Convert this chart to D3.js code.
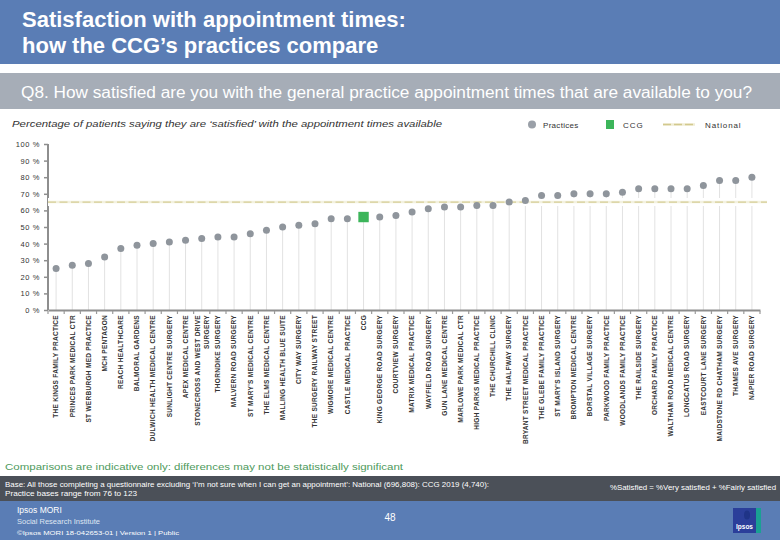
<!DOCTYPE html>
<html>
<head>
<meta charset="utf-8">
<script src="https://cdn.jsdelivr.net/npm/d3@7"></script>
<style>
  html, body { margin: 0; padding: 0; background: #ffffff; }
  svg { display: block; font-family: "Liberation Sans", Arial, sans-serif; }
</style>
</head>
<body>
<svg id="chart" width="780" height="540"></svg>
<script>
// ---- data ----
const practices = [
  "THE KINGS FAMILY PRACTICE", "PRINCES PARK MEDICAL CTR", "ST WERBURGH MED PRACTICE",
  "MCH PENTAGON", "REACH HEALTHCARE", "BALMORAL GARDENS", "DULWICH HEALTH MEDICAL CENTRE",
  "SUNLIGHT CENTRE SURGERY", "APEX MEDICAL CENTRE", "STONECROSS AND WEST DRIVE\nSURGERY",
  "THORNDIKE SURGERY", "MALVERN ROAD SURGERY", "ST MARY'S MEDICAL CENTRE",
  "THE ELMS MEDICAL CENTRE", "MALLING HEALTH BLUE SUITE", "CITY WAY SURGERY",
  "THE SURGERY RAILWAY STREET", "WIGMORE MEDICAL CENTRE", "CASTLE MEDICAL PRACTICE",
  "CCG", "KING GEORGE ROAD SURGERY", "COURTVIEW SURGERY", "MATRIX MEDICAL PRACTICE",
  "WAYFIELD ROAD SURGERY", "GUN LANE MEDICAL CENTRE", "MARLOWE PARK MEDICAL CTR",
  "HIGH PARKS MEDICAL PRACTICE", "THE CHURCHILL CLINIC", "THE HALFWAY SURGERY",
  "BRYANT STREET MEDICAL PRACTICE", "THE GLEBE FAMILY PRACTICE", "ST MARY'S ISLAND SURGERY",
  "BROMPTON MEDICAL CENTRE", "BORSTAL VILLAGE SURGERY", "PARKWOOD FAMILY PRACTICE",
  "WOODLANDS FAMILY PRACTICE", "THE RAILSIDE SURGERY", "ORCHARD FAMILY PRACTICE",
  "WALTHAM ROAD MEDICAL CENTRE", "LONGCATUS ROAD SURGERY", "EASTCOURT LANE SURGERY",
  "MAIDSTONE RD CHATHAM SURGERY", "THAMES AVE SURGERY", "NAPIER ROAD SURGERY"
];
const satisfied = [
  25, 27, 28, 32, 37, 39, 40, 41, 42, 43,
  44, 44, 46, 48, 50, 51, 52, 55, 55, 56,
  56, 57, 59, 61, 62, 62, 63, 63, 65, 66,
  69, 69, 70, 70, 70, 71, 73, 73, 73, 73,
  75, 78, 78, 80
];
const ccgLabel = "CCG";
const nationalValue = 65;
const yTickValues = [0, 10, 20, 30, 40, 50, 60, 70, 80, 90, 100];
const legendItems = ["Practices", "CCG", "National"];

const svg = d3.select("#chart");

// ---- header ----
svg.append("rect").attr("x", 0).attr("y", 0).attr("width", 780).attr("height", 64).attr("fill", "#5a7db5");
svg.append("text").attr("x", 22).attr("y", 27).attr("fill", "#fff").attr("font-size", 22).attr("font-weight", "bold")
  .text("Satisfaction with appointment times:");
svg.append("text").attr("x", 22).attr("y", 53).attr("fill", "#fff").attr("font-size", 22).attr("font-weight", "bold")
  .text("how the CCG\u2019s practices compare");

svg.append("rect").attr("x", 0).attr("y", 73).attr("width", 780).attr("height", 36).attr("fill", "#a6adb7");
svg.append("text").attr("x", 21).attr("y", 98).attr("fill", "#fff").attr("font-size", 16)
  .attr("textLength", 731).attr("lengthAdjust", "spacingAndGlyphs")
  .text("Q8. How satisfied are you with the general practice appointment times that are available to you?");

svg.append("text").attr("x", 12).attr("y", 127).attr("fill", "#333").attr("font-size", 9).attr("font-style", "italic")
  .attr("textLength", 430).attr("lengthAdjust", "spacingAndGlyphs")
  .text("Percentage of patients saying they are \u2018satisfied\u2019 with the appointment times available");

// ---- legend ----
const lg = svg.append("g");
lg.append("circle").attr("cx", 532).attr("cy", 124.5).attr("r", 4).attr("fill", "#9aa0a8");
lg.append("text").attr("x", 543).attr("y", 127.5).attr("font-size", 8).attr("fill", "#333").attr("letter-spacing", 0.3).text(legendItems[0]);
lg.append("rect").attr("x", 606).attr("y", 120).attr("width", 8).attr("height", 9).attr("fill", "#3cb55a");
lg.append("text").attr("x", 623).attr("y", 127.5).attr("font-size", 8).attr("fill", "#333").attr("letter-spacing", 1).text(legendItems[1]);
lg.append("line").attr("x1", 663).attr("x2", 695).attr("y1", 124.5).attr("y2", 124.5).attr("stroke", "#f0edd4").attr("stroke-width", 2.5);
lg.append("line").attr("x1", 663).attr("x2", 695).attr("y1", 124.5).attr("y2", 124.5).attr("stroke", "#d2c98e").attr("stroke-width", 1.6).attr("stroke-dasharray", "8,3");
lg.append("text").attr("x", 705).attr("y", 127.5).attr("font-size", 8).attr("fill", "#333").attr("letter-spacing", 0.9).text(legendItems[2]);

// ---- scales ----
const x = d3.scaleBand().domain(practices).range([48, 760]).paddingInner(0).paddingOuter(0);
const y = d3.scaleLinear().domain([0, 100]).range([310, 144]);
const cx = d => x(d) + x.bandwidth() / 2;

const plot = svg.append("g");

// drop lines
plot.selectAll("line.drop").data(practices).join("line").attr("class", "drop")
  .attr("x1", d => cx(d)).attr("x2", d => cx(d))
  .attr("y1", (d, i) => y(satisfied[i])).attr("y2", y(0))
  .attr("stroke", "#e2e2e2").attr("stroke-width", 1);

// y axis
const yAxis = d3.axisLeft(y).tickValues(yTickValues).tickSize(4).tickPadding(4).tickFormat(d => d + " %");
const yg = svg.append("g").attr("transform", "translate(48,0)").call(yAxis);
yg.select(".domain").attr("stroke", "#8e8e8e").attr("stroke-width", 2).attr("d", `M0,${y(0)}V${y(100)}`);
yg.selectAll(".tick line").attr("stroke", "#8e8e8e").attr("stroke-width", 1.5);
yg.selectAll(".tick text").attr("font-size", 7.5).attr("fill", "#333").attr("letter-spacing", 0.6)
  .attr("font-family", "Liberation Sans, Arial, sans-serif");

// x axis
const xAxis = d3.axisBottom(x).tickSize(0).tickFormat("");
const xg = svg.append("g").attr("transform", `translate(0,${y(0)})`).call(xAxis);
xg.select(".domain").attr("stroke", "#8e8e8e").attr("stroke-width", 2);
xg.selectAll(".btick").data(practices.concat(["__end"])).join("line").attr("class", "btick")
  .attr("x1", (d, i) => i < practices.length ? x(d) : 760)
  .attr("x2", (d, i) => i < practices.length ? x(d) : 760)
  .attr("y1", 1).attr("y2", 4).attr("stroke", "#9a9a9a").attr("stroke-width", 1.2);

// x labels (rotated)
const lab = svg.append("g");
practices.forEach(name => {
  const lines = name.split("\n");
  lines.forEach((ln, j) => {
    const off = (j - (lines.length - 1) / 2) * 9;
    const px = cx(name) + off;
    lab.append("text")
      .attr("transform", `translate(${px},315) rotate(-90)`)
      .attr("text-anchor", "end")
      .attr("dy", "0.35em")
      .attr("font-size", 6.5)
      .attr("letter-spacing", 0.3)
      .attr("font-weight", "bold")
      .attr("fill", "#333")
      .text(ln);
  });
});

// national line
svg.append("line").attr("x1", 48).attr("x2", 767).attr("y1", y(nationalValue)).attr("y2", y(nationalValue))
  .attr("stroke", "#ffffff").attr("stroke-width", 8);
svg.append("line").attr("x1", 48).attr("x2", 767).attr("y1", y(nationalValue)).attr("y2", y(nationalValue))
  .attr("stroke", "#f3f1df").attr("stroke-width", 2.5);
svg.append("line").attr("x1", 48).attr("x2", 767).attr("y1", y(nationalValue)).attr("y2", y(nationalValue))
  .attr("stroke", "#d6ce98").attr("stroke-width", 1.3).attr("stroke-dasharray", "8,3.5");

// points
const pts = svg.append("g");
practices.forEach((name, i) => {
  if (name === ccgLabel) {
    pts.append("rect").attr("x", cx(name) - 5.2).attr("y", y(satisfied[i]) - 5.2)
      .attr("width", 10.4).attr("height", 10.4).attr("fill", "#3cb55a");
  } else {
    pts.append("circle").attr("cx", cx(name)).attr("cy", y(satisfied[i])).attr("r", 3.5).attr("fill", "#8f959c");
  }
});

// ---- footer ----
svg.append("text").attr("x", 5).attr("y", 470).attr("fill", "#4e9a5c").attr("font-size", 9.5)
  .attr("textLength", 398).attr("lengthAdjust", "spacingAndGlyphs")
  .text("Comparisons are indicative only: differences may not be statistically significant");

svg.append("rect").attr("x", 0).attr("y", 476).attr("width", 780).attr("height", 25).attr("fill", "#4b5058");
svg.append("text").attr("x", 5).attr("y", 487).attr("fill", "#fff").attr("font-size", 7.2)
  .attr("textLength", 484).attr("lengthAdjust", "spacingAndGlyphs")
  .text("Base: All those completing a questionnaire excluding \u2018I\u2019m not sure when I can get an appointment\u2019: National (696,808): CCG 2019 (4,740):");
svg.append("text").attr("x", 5).attr("y", 496).attr("fill", "#fff").attr("font-size", 7.2)
  .attr("textLength", 132).attr("lengthAdjust", "spacingAndGlyphs")
  .text("Practice bases range from 76 to 123");
svg.append("text").attr("x", 776).attr("y", 490).attr("fill", "#fff").attr("font-size", 7).attr("text-anchor", "end")
  .attr("textLength", 166).attr("lengthAdjust", "spacingAndGlyphs")
  .text("%Satisfied = %Very satisfied + %Fairly satisfied");

svg.append("rect").attr("x", 0).attr("y", 501).attr("width", 780).attr("height", 39).attr("fill", "#5a7db5");
svg.append("text").attr("x", 17).attr("y", 513).attr("fill", "#fff").attr("font-size", 8.5).text("Ipsos MORI");
svg.append("text").attr("x", 17).attr("y", 524).attr("fill", "#dfe6f2").attr("font-size", 7.5).text("Social Research Institute");
svg.append("text").attr("x", 17).attr("y", 535).attr("fill", "#fff").attr("font-size", 5.5)
  .attr("textLength", 162).attr("lengthAdjust", "spacingAndGlyphs")
  .text("\u00A9Ipsos MORI      18-042653-01 | Version 1 | Public");
svg.append("text").attr("x", 390).attr("y", 521).attr("fill", "#fff").attr("font-size", 10).attr("text-anchor", "middle").text("48");

// logo
svg.append("rect").attr("x", 733).attr("y", 508).attr("width", 28).attr("height", 25).attr("fill", "#1aa093");
svg.append("rect").attr("x", 733).attr("y", 508).attr("width", 23).attr("height", 25).attr("fill", "#2b3f9a");
svg.append("ellipse").attr("cx", 747).attr("cy", 515).attr("rx", 3).attr("ry", 4.5).attr("fill", "#1f3487");
svg.append("text").attr("x", 744.5).attr("y", 529).attr("fill", "#fff").attr("font-size", 6.5).attr("font-weight", "bold")
  .attr("text-anchor", "middle").text("Ipsos");
</script>
</body>
</html>
